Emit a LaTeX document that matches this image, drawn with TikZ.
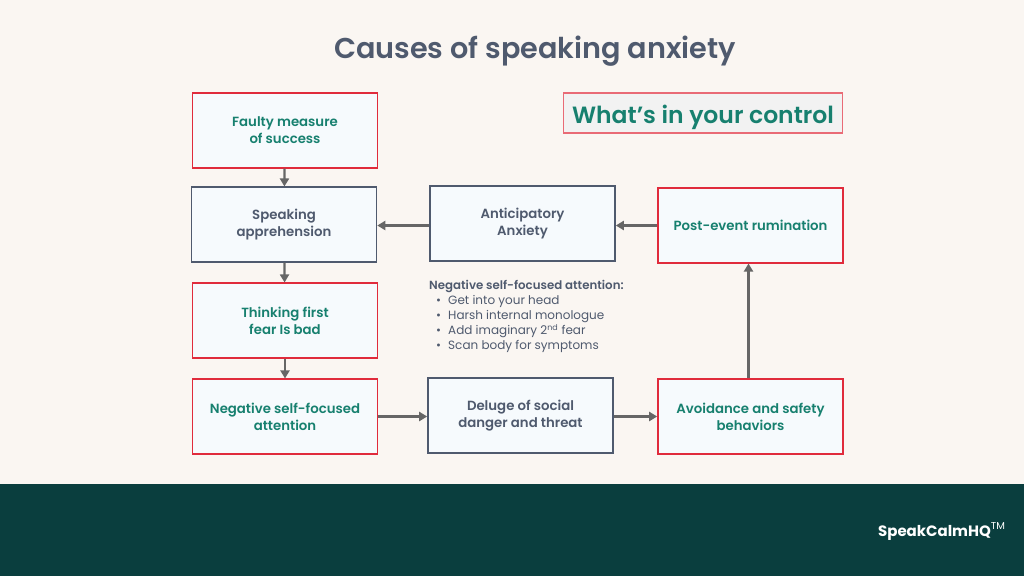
\documentclass[tikz,border=0pt]{standalone}
\usepackage{fontspec}
\setmainfont{Poppins Medium}
\newfontfamily\logofont{Poppins}
\newfontfamily\listfont{Poppins}
\newfontfamily\headfont{Poppins SemiBold}
\usepackage{xcolor}
\definecolor{bgpage}{HTML}{FAF6F2}
\definecolor{footgreen}{HTML}{0A3E3E}
\definecolor{boxfill}{HTML}{F6FAFD}
\definecolor{slate}{HTML}{4F5A6E}
\definecolor{teal}{HTML}{17806F}
\definecolor{redline}{HTML}{E02B3C}
\definecolor{arrowgrey}{HTML}{666666}
\usetikzlibrary{arrows.meta}
\newcommand{\bul}{\makebox[19pt][c]{\textbullet}}
\tikzset{
  plainbox/.style={draw=slate,line width=1.6pt,fill=boxfill,minimum width=185pt,minimum height=74.5pt,
    align=center,text=slate,font=\headfont\fontsize{13.3}{17}\selectfont},
  redbox/.style={plainbox,draw=redline,text=teal},
  flow/.style={draw=arrowgrey,line width=2.2pt,-{Triangle[length=8pt,width=9pt]}}
}

\begin{document}
\begin{tikzpicture}[x=1pt,y=-1pt]
  \useasboundingbox (0,0) rectangle (1024,576);
  \fill[bgpage] (0,0) rectangle (1024,576);
  \fill[footgreen] (0,484) rectangle (1024,576);

  \node[text=slate,font=\headfont\fontsize{28.7}{34}\selectfont] (title) at (535,51.5) {Causes of speaking anxiety};

  \node[redbox] (n1) at (285,130.5) {Faulty measure\\of success};
  \node[plainbox] (n2) at (284,224.5) {Speaking\\apprehension};
  \node[redbox] (n3) at (285,320.5) {Thinking first\\fear Is bad};
  \node[redbox] (n4) at (285,416.5) {Negative self-focused\\attention};
  \node[plainbox] (n5) at (520.5,415.5) {Deluge of social\\danger and threat};
  \node[redbox] (n6) at (750.5,416.5) {Avoidance and safety\\behaviors};
  \node[redbox] (n7) at (750.5,225.5) {Post-event rumination};
  \node[plainbox] (n8) at (522.5,223.5) {Anticipatory\\Anxiety};

  \node[draw=redline!70,line width=1.6pt,fill=black!5,minimum width=279pt,minimum height=39.5pt,
    text height=24pt,text depth=4pt,text=teal,font=\headfont\fontsize{23.5}{30}\selectfont] (control) at (703,113) {What’s in your control};

  \node[anchor=north west,inner sep=0pt,align=left,text=slate,font=\listfont\fontsize{12}{15}\selectfont] (notes) at (429,280)
    {{\headfont\fontsize{11.8}{15}\selectfont Negative self-focused attention:}\\
     \bul Get into your head\\
     \bul Harsh internal monologue\\
     \bul Add imaginary 2\textsuperscript{nd} fear\\
     \bul Scan body for symptoms};

  \node[text=white,font=\logofont\fontsize{15}{16}\selectfont\bfseries] (logo) at (941.5,531)
    {SpeakCalmHQ\raisebox{7pt}{\fontsize{10}{10}\selectfont\mdseries TM}};

  \foreach \from/\to in {n1/n2,n2/n3,n3/n4}
    \draw[flow] (\from) -- (\to);
  \draw[flow] (n4.east) -- (n4.east -| n5.west);
  \draw[flow] (n5.east |- n6) -- (n6.west);
  \draw[flow] (n7.west) -- (n7.west -| n8.east);
  \draw[flow] ([yshift=-2pt]n8.west) -- ([yshift=-1pt]n2.east);
  \draw[flow] ([xshift=-2pt]n6.north) -- ([xshift=-2pt]n7.south);

\end{tikzpicture}
\end{document}
